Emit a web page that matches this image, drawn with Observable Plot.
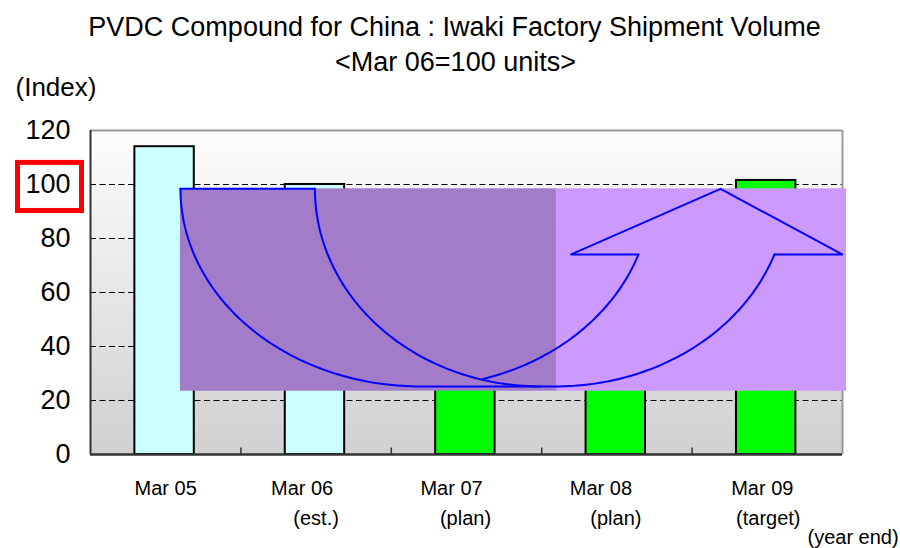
<!DOCTYPE html>
<html><head><meta charset="utf-8">
<script src="https://cdn.jsdelivr.net/npm/d3@7"></script>
<script src="https://cdn.jsdelivr.net/npm/@observablehq/plot@0.6"></script>
<style>body{margin:0;background:#fff;} svg{display:block}</style>
</head><body><div id="chart"></div>
<script>
// ---- data ----
const categories = ["Mar 05", "Mar 06", "Mar 07", "Mar 08", "Mar 09"];
const subLabels = ["", "(est.)", "(plan)", "(plan)", "(target)"];
const values = [114, 100, 55, 80, 101.5];
const kinds = ["actual", "actual", "plan", "plan", "plan"];
const yTicks = [0, 20, 40, 60, 80, 100, 120];
const gridValues = [20, 40, 60, 80, 100];
const bandBoundaries = [1, 2, 3, 4];
const titleText = "PVDC Compound for China : Iwaki Factory Shipment Volume";
const subtitleText = "<Mar 06=100 units>";
const yLabelText = "(Index)";
const yearEndText = "(year end)";
const highlightedTick = 100;

// ---- table ----
const rows = categories.map((c, i) => ({cat: c, value: values[i], idx: i, kind: kinds[i]}));

// ---- overlay shapes (in data units: x = band index, y = index value) ----
const TOP = 98.4, RY = 73.2, BARB_Y = 74.1;
const thetaEnd = Math.asin((TOP - BARB_Y) / RY);
function arc(seg, cx, rx, t0, t1, n = 80) {
  return d3.range(n + 1).map(k => {
    const t = t0 + (t1 - t0) * k / n;
    return {seg, x: cx + rx * Math.cos(t), y: TOP - RY * Math.sin(t)};
  });
}
const A = {cx: 2.194, rx: 1.596};
const B = {cx: 2.992, rx: 1.5};
const D = {cx: 3.092, rx: 1.543};
const C = {cx: 2.188, rx: 1.543};
const crossX = 2.613;
const dEndX = D.cx + D.rx * Math.cos(thetaEnd);
const cEndX = C.cx + C.rx * Math.cos(thetaEnd);
const arrowPts = [
  {seg: 0, x: A.cx - A.rx, y: TOP}, {seg: 0, x: B.cx - B.rx, y: TOP},
  ...arc(1, A.cx, A.rx, Math.PI, Math.PI / 2), {seg: 1, x: D.cx, y: TOP - RY},
  ...arc(2, B.cx, B.rx, Math.PI, Math.PI / 2),
  ...arc(3, D.cx, D.rx, Math.PI / 2, thetaEnd),
  {seg: 4, x: dEndX, y: BARB_Y}, {seg: 4, x: 4.998, y: BARB_Y},
  {seg: 4, x: 4.189, y: TOP}, {seg: 4, x: 3.196, y: BARB_Y}, {seg: 4, x: cEndX, y: BARB_Y},
  ...arc(5, C.cx, C.rx, Math.acos((crossX - C.cx) / C.rx), thetaEnd)
];

const line1Dx = [0, -14, -15, -16, -5];
const line2Dx = [0, 0, -1, -1, 1];
const FONT = "'Liberation Sans', Arial, sans-serif";

const labelMarks = [];
categories.forEach((c, i) => {
  labelMarks.push(Plot.text([c], {x: i + 0.5, frameAnchor: "bottom", dy: 40, dx: line1Dx[i], lineAnchor: "bottom", fontSize: 20, fill: "#000"}));
  if (subLabels[i]) labelMarks.push(Plot.text([subLabels[i]], {x: i + 0.5, frameAnchor: "bottom", dy: 70, dx: line2Dx[i], lineAnchor: "bottom", fontSize: 20, fill: "#000"}));
});

const chart = Plot.plot({
  width: 900,
  height: 548,
  marginLeft: 90,
  marginRight: 58,
  marginTop: 130,
  marginBottom: 94,
  style: {fontFamily: FONT, fontSize: "27px", color: "#000", background: "#fff", overflow: "visible"},
  x: {domain: [0, 5], axis: null},
  y: {domain: [0, 120], ticks: yTicks, tickSize: 0, tickPadding: 20, label: null},
  marks: [
    Plot.frame({fill: "#e6e6e6", stroke: "none"}),
    Plot.ruleY(gridValues, {stroke: "#000", strokeWidth: 1, strokeDasharray: "6,3.5"}),
    Plot.ruleY([120], {stroke: "#999", strokeWidth: 2}),
    Plot.ruleX([5], {stroke: "#999", strokeWidth: 2}),
    Plot.ruleX(bandBoundaries, {y1: 0, y2: 2.4, stroke: "#333", strokeWidth: 1.5}),
    Plot.rectY(rows.filter(d => d.kind === "actual"), {x1: d => d.idx + 0.295, x2: d => d.idx + 0.69, y1: 0, y2: "value", fill: "#ccffff", stroke: "#000", strokeWidth: 2}),
    Plot.rectY(rows.filter(d => d.kind === "plan"), {x1: d => d.idx + 0.295, x2: d => d.idx + 0.69, y1: 0, y2: "value", fill: "#00ff00", stroke: "#000", strokeWidth: 2}),
    Plot.ruleX([0], {stroke: "#333", strokeWidth: 2}),
    Plot.ruleY([0], {stroke: "#333", strokeWidth: 2.5}),
    // overlay shapes
    Plot.rect([0], {x1: 0.598, x2: 3.098, y1: 23.44, y2: TOP, fill: "#a27bc9"}),
    Plot.rect([0], {x1: 3.098, x2: 5.027, y1: 23.44, y2: TOP, fill: "#cc99ff"}),
    Plot.line(arrowPts, {x: "x", y: "y", z: "seg", stroke: "#0000ff", strokeWidth: 2}),
    // highlight box around tick 100
    Plot.rect([highlightedTick], {x1: -0.482, x2: -0.0565, y1: d => d - 9.8, y2: d => d + 8, fill: "none", stroke: "#ff0000", strokeWidth: 5}),
    // titles
    Plot.text([titleText], {frameAnchor: "top", dx: -12, dy: -95, lineAnchor: "bottom", fontSize: 27, fill: "#000"}),
    Plot.text([subtitleText], {frameAnchor: "top", dx: -11, dy: -60, lineAnchor: "bottom", fontSize: 27, fill: "#000"}),
    Plot.text([yLabelText], {frameAnchor: "top-left", dx: -75, dy: -35, lineAnchor: "bottom", textAnchor: "start", fontSize: 26, fill: "#000"}),
    ...labelMarks,
    Plot.text([yearEndText], {frameAnchor: "bottom-right", dx: -35, dy: 89, lineAnchor: "bottom", textAnchor: "start", fontSize: 20, fill: "#000"})
  ]
});

// background gradient on the frame
const svg = d3.select(chart);
const defs = svg.insert("defs", ":first-child");
const g = defs.append("linearGradient").attr("id", "bgGrad").attr("x1", 0).attr("y1", 0).attr("x2", 0).attr("y2", 1);
g.append("stop").attr("offset", "0%").attr("stop-color", "#fdfdfd");
g.append("stop").attr("offset", "100%").attr("stop-color", "#d0d0d0");
let fr = svg.select('[aria-label="frame"]');
if (!fr.empty() && fr.node().tagName.toLowerCase() !== "rect") fr = fr.select("rect");
fr.attr("fill", "url(#bgGrad)");

document.getElementById("chart").appendChild(chart);
</script>
</body></html>
